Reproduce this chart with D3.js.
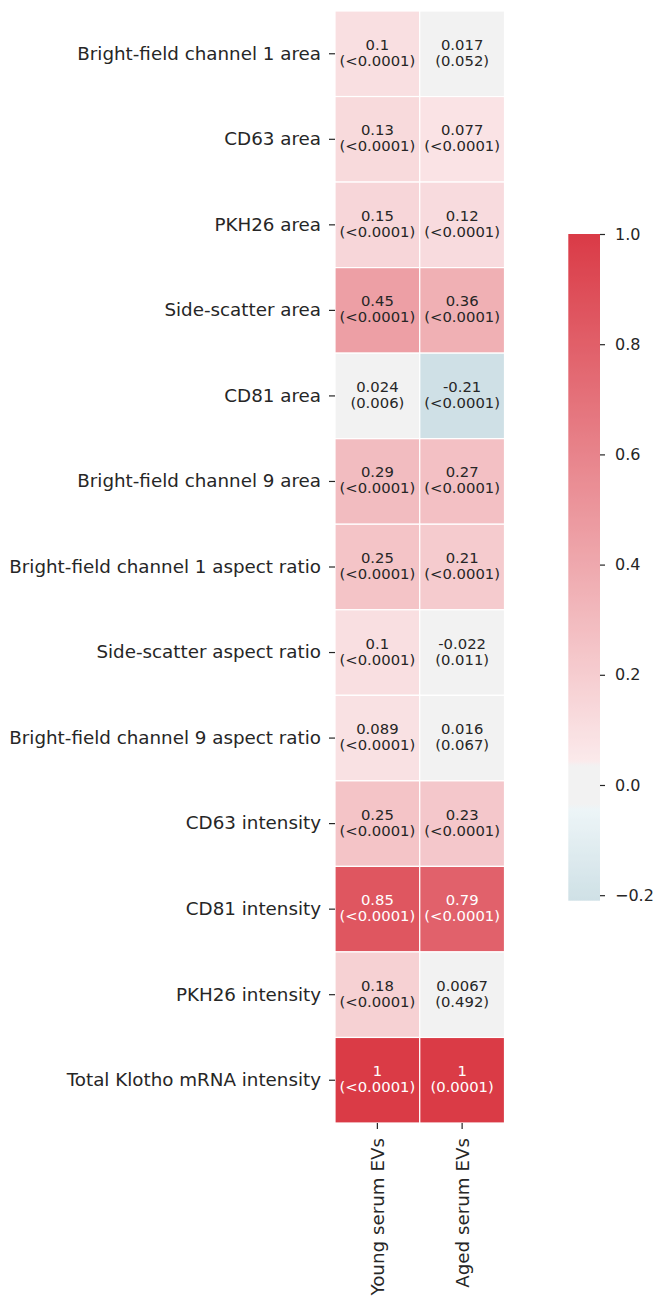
<!DOCTYPE html>
<html>
<head>
<meta charset="utf-8">
<script src="https://cdn.jsdelivr.net/npm/d3@7"></script>
<style>
  html, body { margin: 0; padding: 0; background: #ffffff; }
  svg { display: block; font-family: "DejaVu Sans", sans-serif; }
</style>
</head>
<body>
<svg id="chart" width="657" height="1296"></svg>
<script>
// ---- data ----
const features = [
  "Bright-field channel 1 area",
  "CD63 area",
  "PKH26 area",
  "Side-scatter area",
  "CD81 area",
  "Bright-field channel 9 area",
  "Bright-field channel 1 aspect ratio",
  "Side-scatter aspect ratio",
  "Bright-field channel 9 aspect ratio",
  "CD63 intensity",
  "CD81 intensity",
  "PKH26 intensity",
  "Total Klotho mRNA intensity"
];
const groups = ["Young serum EVs", "Aged serum EVs"];
const youngR = [0.1, 0.13, 0.15, 0.45, 0.024, 0.29, 0.25, 0.1, 0.089, 0.25, 0.85, 0.18, 1];
const agedR  = [0.017, 0.077, 0.12, 0.36, -0.21, 0.27, 0.21, -0.022, 0.016, 0.23, 0.79, 0.0067, 1];
const youngP = ["<0.0001", "<0.0001", "<0.0001", "<0.0001", "0.006", "<0.0001", "<0.0001",
                "<0.0001", "<0.0001", "<0.0001", "<0.0001", "<0.0001", "<0.0001"];
const agedP  = ["0.052", "<0.0001", "<0.0001", "<0.0001", "<0.0001", "<0.0001", "<0.0001",
                "0.011", "0.067", "<0.0001", "<0.0001", "0.492", "0.0001"];
const cbarTicks = [-0.2, 0.0, 0.2, 0.4, 0.6, 0.8, 1.0];

// ---- HUSL (HSLuv) colour conversion ----
const M = [
  [3.240969941904521, -1.537383177570093, -0.498610760293],
  [-0.96924363628087, 1.87596750150772, 0.041555057407175],
  [0.055630079696993, -0.20397695888897, 1.056971514242878]
];
const refU = 0.19783000664283681, refV = 0.468319994938791;
const kappa = 903.2962962962963, epsilon = 0.0088564516790356308;

function getBounds(L) {
  const sub1 = Math.pow(L + 16, 3) / 1560896;
  const sub2 = sub1 > epsilon ? sub1 : L / kappa;
  const out = [];
  for (let c = 0; c < 3; c++) {
    const [m1, m2, m3] = M[c];
    for (let t = 0; t < 2; t++) {
      const top1 = (284517 * m1 - 94839 * m3) * sub2;
      const top2 = (838422 * m3 + 769860 * m2 + 731718 * m1) * L * sub2 - 769860 * t * L;
      const bottom = (632260 * m3 - 126452 * m2) * sub2 + 126452 * t;
      out.push({ slope: top1 / bottom, intercept: top2 / bottom });
    }
  }
  return out;
}
function maxChroma(L, H) {
  const hr = H / 360 * Math.PI * 2;
  let m = Infinity;
  for (const b of getBounds(L)) {
    const len = b.intercept / (Math.sin(hr) - b.slope * Math.cos(hr));
    if (len >= 0) m = Math.min(m, len);
  }
  return m;
}
function fromLinear(c) {
  return c <= 0.0031308 ? 12.92 * c : 1.055 * Math.pow(c, 1 / 2.4) - 0.055;
}
function huslToRgb(H, S, L) {
  if (L > 99.9999999) return [1, 1, 1];
  const C = maxChroma(L, H) / 100 * S;
  const hr = H / 360 * Math.PI * 2;
  const u = Math.cos(hr) * C, v = Math.sin(hr) * C;
  const varU = u / (13 * L) + refU, varV = v / (13 * L) + refV;
  const Y = L <= 8 ? L / kappa : Math.pow((L + 16) / 116, 3);
  const X = 0 - (9 * Y * varU) / ((varU - 4) * varV - varU * varV);
  const Z = (9 * Y - 15 * varV * Y - varV * X) / (3 * varV);
  return M.map(r => Math.min(1, Math.max(0, fromLinear(r[0] * X + r[1] * Y + r[2] * Z))));
}

// same hue and saturation (HLS), lightness raised to 0.95
function lightened(rgb) {
  const c = d3.hsl(d3.rgb(rgb[0] * 255, rgb[1] * 255, rgb[2] * 255));
  c.l = 0.95;
  const r = d3.rgb(c);
  return [r.r / 255, r.g / 255, r.b / 255];
}

// ---- diverging colormap, hue 220 (negative) to hue 10 (positive), light grey centre band ----
function buildDiverging(hNeg, hPos, s, l, sep) {
  const nHalf = 128 - sep / 2;
  const neg = huslToRgb(hNeg, s, l), negLight = lightened(neg);
  const pos = huslToRgb(hPos, s, l), posLight = lightened(pos);
  const cols = [];
  for (let i = 0; i < nHalf; i++) {
    const t = i / (nHalf - 1);
    cols.push(neg.map((c, k) => c + (negLight[k] - c) * t));
  }
  for (let i = 0; i < sep; i++) cols.push([0.95, 0.95, 0.95]);
  for (let i = 0; i < nHalf; i++) {
    const t = i / (nHalf - 1);
    cols.push(posLight.map((c, k) => c + (pos[k] - c) * t));
  }
  const n = cols.length - 1;
  return function (x) {
    const p = Math.max(0, Math.min(1, x)) * n;
    const i = Math.min(n - 1, Math.floor(p)), f = p - i;
    return cols[i].map((c, k) => c + (cols[i + 1][k] - c) * f);
  };
}
const cmap = buildDiverging(220, 10, 75, 50, 10);

// values centred on 0: cmap spans [-1, 1]
const vmin = d3.min(youngR.concat(agedR)), vmax = d3.max(youngR.concat(agedR));
const norm = d3.scaleLinear().domain([-1, 1]).range([0, 1]);
const toCss = rgb => d3.rgb(rgb[0] * 255, rgb[1] * 255, rgb[2] * 255).formatHex();
const colorOf = v => toCss(cmap(norm(v)));
function luminance(rgb) {
  const lin = rgb.map(c => c <= 0.03928 ? c / 12.92 : Math.pow((c + 0.055) / 1.055, 2.4));
  return 0.2126 * lin[0] + 0.7152 * lin[1] + 0.0722 * lin[2];
}

// ---- layout ----
const svg = d3.select("#chart");
const ink = "#262626";
const hm = { left: 335, right: 504.5, top: 11, bottom: 1123 };

const x = d3.scaleBand().domain(groups).range([hm.left, hm.right]);
const y = d3.scaleBand().domain(features).range([hm.top, hm.bottom]);

const cells = [];
features.forEach((f, i) => {
  cells.push({ f, g: groups[0], r: youngR[i], p: youngP[i] });
  cells.push({ f, g: groups[1], r: agedR[i], p: agedP[i] });
});

const cellG = svg.append("g");
cellG.selectAll("rect").data(cells).join("rect")
  .attr("x", d => x(d.g))
  .attr("y", d => y(d.f))
  .attr("width", x.bandwidth())
  .attr("height", y.bandwidth())
  .attr("fill", d => colorOf(d.r))
  .attr("stroke", "#ffffff")
  .attr("stroke-width", 1.2);

// annotations: r on the first line, p-value in brackets below
const ann = svg.append("g").attr("font-size", 14.8).attr("text-anchor", "middle");
cells.forEach(d => {
  const cx = x(d.g) + x.bandwidth() / 2;
  const cy = y(d.f) + y.bandwidth() / 2;
  const fill = luminance(cmap(norm(d.r))) > 0.408 ? ink : "#ffffff";
  ann.append("text").attr("x", cx).attr("y", cy - 4).attr("fill", fill).text(String(d.r));
  ann.append("text").attr("x", cx).attr("y", cy + 12).attr("fill", fill).text("(" + d.p + ")");
});

// y axis (feature names)
const yAxis = svg.append("g")
  .attr("transform", `translate(${hm.left},0)`)
  .call(d3.axisLeft(y).tickSize(6).tickPadding(8));
yAxis.select(".domain").remove();
yAxis.selectAll(".tick line").attr("stroke", ink).attr("stroke-width", 1.2);
yAxis.selectAll(".tick text").attr("fill", ink).attr("font-size", 18.3)
  .attr("font-family", "DejaVu Sans, sans-serif");

// x axis (groups), labels rotated vertically
const xAxis = svg.append("g")
  .attr("transform", `translate(0,${hm.bottom})`)
  .call(d3.axisBottom(x).tickSize(6).tickPadding(8));
xAxis.select(".domain").remove();
xAxis.selectAll(".tick line").attr("stroke", ink).attr("stroke-width", 1.2);
xAxis.selectAll(".tick text")
  .attr("fill", ink).attr("font-size", 18.3)
  .attr("font-family", "DejaVu Sans, sans-serif")
  .attr("text-anchor", "end")
  .attr("dy", "0.35em")
  .attr("transform", "translate(0,15) rotate(-90)")
  .attr("x", 0).attr("y", 0);

// ---- colour bar ----
const cb = { x: 568.3, w: 31.7, top: 234, bottom: 900.7 };
const cy = d3.scaleLinear().domain([vmin, vmax]).range([cb.bottom, cb.top]);
const defs = svg.append("defs");
const grad = defs.append("linearGradient").attr("id", "cbarGrad")
  .attr("x1", 0).attr("y1", 1).attr("x2", 0).attr("y2", 0);
d3.range(0, 1.0001, 1 / 240).forEach(t => {
  const v = vmin + (vmax - vmin) * t;
  grad.append("stop").attr("offset", t).attr("stop-color", colorOf(v));
});
svg.append("rect")
  .attr("x", cb.x).attr("y", cb.top)
  .attr("width", cb.w).attr("height", cb.bottom - cb.top)
  .attr("fill", "url(#cbarGrad)");

const cAxis = svg.append("g")
  .attr("transform", `translate(${cb.x + cb.w},0)`)
  .call(d3.axisRight(cy).tickValues(cbarTicks).tickFormat(d3.format(".1f"))
    .tickSize(5).tickPadding(10));
cAxis.select(".domain").remove();
cAxis.selectAll(".tick line").attr("stroke", ink).attr("stroke-width", 1.2);
cAxis.selectAll(".tick text").attr("fill", ink).attr("font-size", 16)
  .attr("font-family", "DejaVu Sans, sans-serif");
</script>
</body>
</html>
